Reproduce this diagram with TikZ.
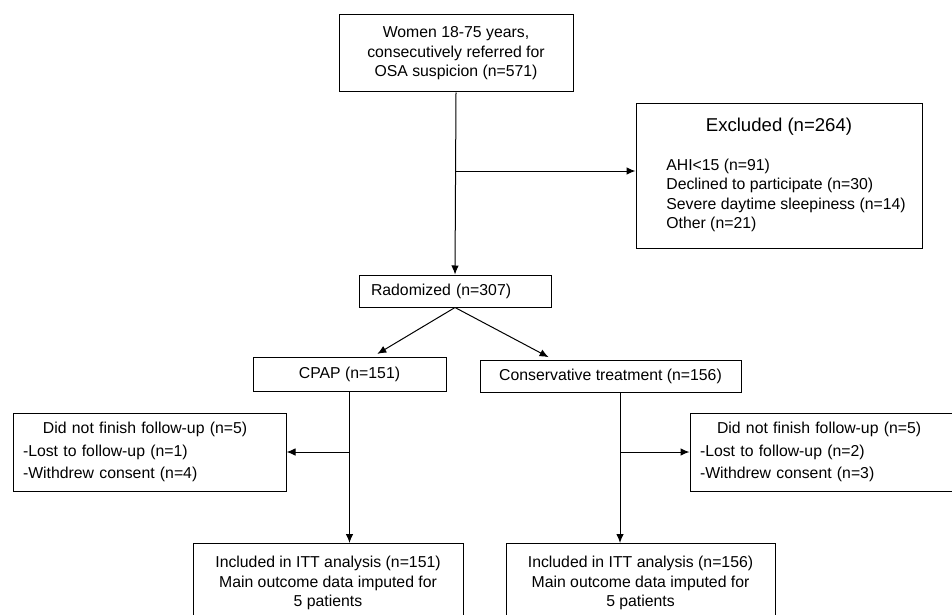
\documentclass[tikz,border=0pt]{standalone}
\usepackage{fontspec}
\setmainfont{Liberation Sans}
\usetikzlibrary{arrows.meta}

\tikzset{
  box/.style={draw, line width=1pt, inner sep=0pt, font=\fontsize{15.8}{19.5}\selectfont},
  dropbox/.style={box, align=left, inner xsep=10pt, minimum height=78pt,
                  font=\fontsize{15.8}{22.5}\selectfont},
  flow/.style={->, line width=1pt}
}

\begin{document}
\begin{tikzpicture}[x=1pt, y=-1pt, >={Latex[length=9pt,width=7.5pt]}]
  \useasboundingbox (0,0) rectangle (952,615);
  \clip (0,0) rectangle (952,615);

  \node (women) at (456,53.5) [box, minimum width=234pt, minimum height=77pt, align=center]
        {Women 18-75 years,\\ consecutively referred for\\ OSA suspicion (n=571)};
  \node (excl) at (779,176) [box, minimum width=286pt, minimum height=144pt, align=center]
        {{\fontsize{18.6}{19.5}\selectfont Excluded (n=264)}\\[19.5pt]
         \hspace*{14pt}\begin{tabular}[t]{@{}l@{}}
           AHI<15 (n=91)\\
           Declined to participate (n=30)\\
           Severe daytime sleepiness (n=14)\\
           Other (n=21)
         \end{tabular}};
  \node (rand) at (455,291) [box, minimum height=32pt, text width=168pt, inner xsep=12pt, align=left]
        {Radomized (n=307)};
  \node (cpap) at (349.5,374) [box, minimum width=193pt, minimum height=34pt] {CPAP (n=151)};
  \node (cons) at (610.5,376) [box, minimum width=261pt, minimum height=32pt]
        {Conservative treatment (n=156)};
  \node (lost1) at (149.5,452) [dropbox, text width=253pt]
        {\hspace*{20pt}Did not finish follow-up (n=5)\\ -Lost to follow-up (n=1)\\ -Withdrew consent (n=4)};
  \node (lost2) at (822.5,452) [dropbox, text width=245pt]
        {\hspace*{17pt}Did not finish follow-up (n=5)\\ -Lost to follow-up (n=2)\\ -Withdrew consent (n=3)};
  \node (incl1) at (328,543) [box, anchor=north, minimum width=270pt, inner ysep=13pt, align=center]
        {Included in ITT analysis (n=151)\\ Main outcome data imputed for\\ 5 patients};
  \node (incl2) at (640.5,543) [box, anchor=north, minimum width=269pt, inner ysep=13pt, align=center]
        {Included in ITT analysis (n=156)\\ Main outcome data imputed for\\ 5 patients};

  \coordinate (exin) at ([yshift=5pt]excl.west);
  \coordinate (cdown) at ([xshift=9.5pt]cons.south);

  \draw [flow] (women.south) -- (rand.north);
  \draw [flow] (women.south |- exin) -- (exin);
  \draw [flow, shorten >=5pt] (rand.south) -- ([xshift=23.5pt]cpap.north);
  \draw [flow, shorten >=5pt] (rand.south) -- ([xshift=-57.5pt]cons.north);
  \draw [flow] (cpap.south) -- (cpap.south |- incl1.north);
  \draw [flow] (cpap.south |- lost1.east) -- (lost1.east);
  \draw [flow] (cdown) -- (cdown |- incl2.north);
  \draw [flow] (cdown |- lost2.west) -- (lost2.west);
\end{tikzpicture}
\end{document}
